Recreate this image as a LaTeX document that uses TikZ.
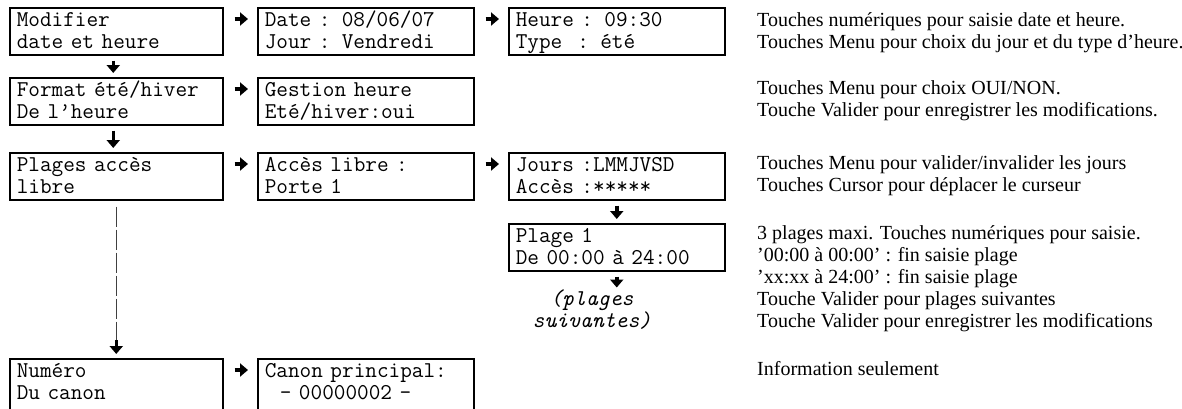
\documentclass[tikz,border=0pt]{standalone}
\usepackage{fontspec}
\setmainfont{Liberation Serif}
\usetikzlibrary{arrows.meta}
\tikzset{
  lcd/.style={draw, line width=1.5pt, anchor=north west, inner xsep=7pt, inner ysep=0.5pt,
    text height=18pt, text depth=28pt, align=left,
    font=\ttfamily\fontsize{22.6}{22}\selectfont},
  lcdopen/.style={lcd, text depth=40pt},
  note/.style={anchor=base west, inner sep=0pt, font=\rmfamily\fontsize{20}{22}\selectfont},
  harr/.style={line width=3.5pt, -{Triangle[length=8pt,width=13pt]}},
  varr/.style={line width=3.5pt, -{Triangle[length=8pt,width=13pt]}},
  dline/.style={line width=0.8pt, black!75, dash pattern=on 20pt off 3pt},
  ital/.style={align=center, text width=160pt, inner sep=0pt, anchor=base,
    font=\ttfamily\itshape\fontsize{22.6}{22}\selectfont}
}
\begin{document}
\begin{tikzpicture}[x=1pt,y=-1pt]
\useasboundingbox (0,0) rectangle (1182,408);
% boxes
\node[lcd, text width=199pt] (A1) at (9,7) {Modifier\\date et heure};
\node[lcd, text width=202pt] (A2) at (257,7) {Date : 08/06/07\\Jour : Vendredi};
\node[lcd, text width=202pt] (A3) at (508,7) {Heure : 09:30\\Type\ \ : été};
\node[lcd, text width=199pt] (B1) at (9,77) {Format été/hiver\\De l’heure};
\node[lcd, text width=202pt] (B2) at (257,77) {Gestion heure\\Eté/hiver:oui};
\node[lcd, text width=199pt] (C1) at (9,152) {Plages accès\\libre};
\node[lcd, text width=202pt] (C2) at (257,152) {Accès libre :\\Porte 1};
\node[lcd, text width=202pt] (C3) at (508,152) {Jours :LMMJVSD\\Accès :*****};
\node[lcd, text width=202pt] (D3) at (508,223) {Plage 1\\De 00:00 à 24:00};
\node[lcdopen, text width=199pt] (E1) at (9,358) {Numéro\\Du canon};
\node[lcdopen, text width=202pt] (E2) at (257,358) {Canon principal:\\\ \ - 00000002 -};
\node[ital] (P) at (592,305) {(plages\\suivantes)};
% horizontal arrows
\draw[harr] ([shift={(11pt,-12pt)}]A1.north east) -- ([shift={(-9pt,-12pt)}]A2.north west);
\draw[harr] ([shift={(11pt,-12pt)}]A2.north east) -- ([shift={(-9pt,-12pt)}]A3.north west);
\draw[harr] ([shift={(11pt,-12pt)}]B1.north east) -- ([shift={(-9pt,-12pt)}]B2.north west);
\draw[harr] ([shift={(11pt,-12pt)}]C1.north east) -- ([shift={(-9pt,-12pt)}]C2.north west);
\draw[harr] ([shift={(11pt,-12pt)}]C2.north east) -- ([shift={(-9pt,-12pt)}]C3.north west);
\draw[harr] ([shift={(11pt,-12pt)}]E1.north east) -- ([shift={(-9pt,-12pt)}]E2.north west);
% vertical arrows
\draw[varr] ([shift={(-3pt,-5pt)}]A1.south) -- ([shift={(-3pt,4pt)}]B1.north);
\draw[varr] ([shift={(-3pt,-5pt)}]B1.south) -- ([shift={(-3pt,4pt)}]C1.north);
\draw[varr] ([yshift=-5pt]C3.south) -- ([yshift=4pt]D3.north);
\draw[varr] ([yshift=-5pt]D3.south) -- ([yshift=-16pt]D3.south);
\draw[dline] ([yshift=-6pt]C1.south) -- ([yshift=18pt]E1.north);
\draw[varr] ([yshift=18pt]E1.north) -- ([yshift=4pt]E1.north);
% notes
\node[note] (n1) at (757,26) {Touches numériques pour saisie date et heure.};
\node[note] (n2) at (757,48) {Touches Menu pour choix du jour et du type d’heure.};
\node[note] (n3) at (757,94.5) {Touches Menu pour choix OUI/NON.};
\node[note] (n4) at (757,116.5) {Touche Valider pour enregistrer les modifications.};
\node[note] (n5) at (757,169) {Touches Menu pour valider/invalider les jours};
\node[note] (n6) at (757,191) {Touches Cursor pour déplacer le curseur};
\node[note] (n7) at (757,239) {3 plages maxi. Touches numériques pour saisie.};
\node[note] (n8) at (757,261) {’00:00 à 00:00’ : fin saisie plage};
\node[note] (n9) at (757,283) {’xx:xx à 24:00’ : fin saisie plage};
\node[note] (n10) at (757,305) {Touche Valider pour plages suivantes};
\node[note] (n11) at (757,327) {Touche Valider pour enregistrer les modifications};
\node[note] (n12) at (757,375) {Information seulement};
\end{tikzpicture}
\end{document}
